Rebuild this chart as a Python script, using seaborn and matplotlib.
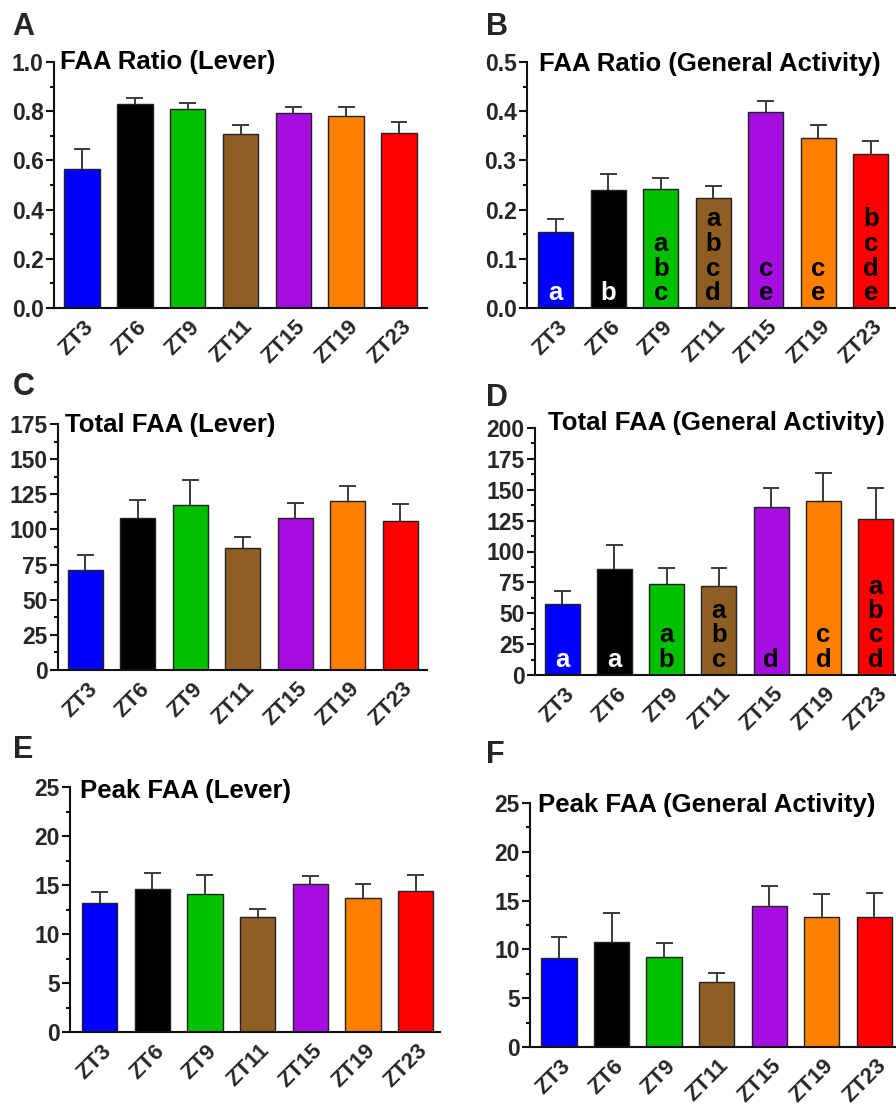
import numpy as np
import pandas as pd
import matplotlib
matplotlib.use("Agg")
import matplotlib.pyplot as plt
import matplotlib.transforms as mtransforms
from matplotlib.ticker import MultipleLocator, FormatStrFormatter
import seaborn as sns

# ---------------- data ----------------
categories = ["ZT3", "ZT6", "ZT9", "ZT11", "ZT15", "ZT19", "ZT23"]
bar_colors = ["#0000FF", "#000000", "#00C000", "#8E5E22", "#A50DE0", "#FF8000", "#FF0000"]

ratio_lever_mean = [0.565, 0.828, 0.809, 0.707, 0.792, 0.780, 0.710]
ratio_lever_sem = [0.083, 0.025, 0.023, 0.037, 0.024, 0.037, 0.046]

ratio_general_mean = [0.155, 0.239, 0.242, 0.224, 0.398, 0.346, 0.312]
ratio_general_sem = [0.025, 0.033, 0.023, 0.023, 0.023, 0.026, 0.028]
ratio_general_letters = ["a", "b", "abc", "abcd", "ce", "ce", "bcde"]

total_lever_mean = [71.3, 107.8, 117.6, 86.9, 108.0, 120.4, 105.7]
total_lever_sem = [10.2, 13.3, 17.8, 7.6, 10.8, 10.5, 12.3]

total_general_mean = [57.2, 85.6, 74.0, 72.0, 136.0, 140.9, 126.3]
total_general_sem = [10.8, 19.4, 12.4, 14.9, 15.4, 22.9, 24.8]
total_general_letters = ["a", "a", "ab", "abc", "d", "cd", "abcd"]

peak_lever_mean = [13.15, 14.57, 14.13, 11.72, 15.08, 13.69, 14.37]
peak_lever_sem = [1.12, 1.63, 1.87, 0.88, 0.88, 1.46, 1.63]

peak_general_mean = [9.15, 10.75, 9.22, 6.69, 14.47, 13.34, 13.28]
peak_general_sem = [2.11, 2.97, 1.43, 0.89, 2.03, 2.36, 2.45]

letter_colors = ["white", "white", "black", "black", "black", "black", "black"]

# ---------------- style ----------------
sns.set_style("ticks")
plt.rcParams["font.family"] = ["Liberation Sans", "DejaVu Sans"]
plt.rcParams["font.weight"] = "bold"

W, H = 896, 1109
fig = plt.figure(figsize=(W / 100, H / 100), dpi=100)

BAR_W = 0.67
CAP_HALF = 0.16


def px_axes(left, right, top, bottom):
    return fig.add_axes([left / W, 1 - bottom / H, (right - left) / W, (bottom - top) / H])


def panel(box, xlim, means, sems, ymax, major, minor, fmt, title, title_off,
          letter, letter_pos, letters=None):
    ax = px_axes(*box)
    df = pd.DataFrame({"ZT": categories, "value": means})
    sns.barplot(data=df, x="ZT", y="value", hue="ZT", palette=bar_colors,
                saturation=1, legend=False, width=BAR_W, edgecolor="#222222",
                linewidth=1.0, errorbar=None, ax=ax, zorder=2)
    xs = np.arange(len(categories))
    m = np.asarray(means)
    tops = m + np.asarray(sems)
    ax.vlines(xs, m, tops, color="#3a3a3a", linewidth=1.4, zorder=1)
    ax.hlines(tops, xs - CAP_HALF, xs + CAP_HALF, color="#3a3a3a", linewidth=1.4, zorder=1)
    ax.set_xlim(*xlim)
    ax.set_ylim(0, ymax)
    ax.yaxis.set_major_locator(MultipleLocator(major))
    ax.yaxis.set_minor_locator(MultipleLocator(minor))
    ax.yaxis.set_major_formatter(FormatStrFormatter(fmt))
    ax.set_xlabel("")
    ax.set_ylabel("")
    for s in ["top", "right"]:
        ax.spines[s].set_visible(False)
    for s in ["left", "bottom"]:
        ax.spines[s].set_linewidth(1.5)
        ax.spines[s].set_color("#111111")
    ax.tick_params(axis="y", which="major", length=6, width=1.5, pad=1.5,
                   labelsize=16.5, color="#111111")
    ax.tick_params(axis="y", which="minor", length=3, width=1.5, color="#111111")
    ax.tick_params(axis="x", length=0, pad=6, labelsize=16)
    for lab in ax.get_yticklabels():
        lab.set_fontweight("bold")
    offset = mtransforms.ScaledTranslation(1 / 72, 0, fig.dpi_scale_trans)
    for lab in ax.get_xticklabels():
        lab.set_rotation(45)
        lab.set_ha("right")
        lab.set_va("top")
        lab.set_rotation_mode("anchor")
        lab.set_fontweight("bold")
        lab.set_transform(lab.get_transform() + offset)
    ax.annotate(title, xy=(0, 1), xycoords="axes fraction",
                xytext=(title_off[0] * 0.72, title_off[1] * 0.72),
                textcoords="offset points", ha="left", va="baseline",
                fontsize=18.5, fontweight="bold", color="black")
    fig.text(letter_pos[0] / W, 1 - letter_pos[1] / H, letter, fontsize=22,
             fontweight="bold", ha="left", va="baseline")
    if letters is not None:
        for i, s in enumerate(letters):
            for k, ch in enumerate(reversed(s)):
                ax.annotate(ch, xy=(i, 0), xycoords="data",
                            xytext=(0, (8 + k * 24.5) * 0.72),
                            textcoords="offset points", ha="center", va="baseline",
                            fontsize=18.5, fontweight="bold", color=letter_colors[i],
                            zorder=5)
    return ax


panel((54, 427, 62, 308), (-0.53, 6.53), ratio_lever_mean, ratio_lever_sem,
      1.0, 0.2, 0.1, "%.1f", "FAA Ratio (Lever)", (6, -7), "A", (12, 35))
panel((527, 896, 62, 308), (-0.55, 6.48), ratio_general_mean, ratio_general_sem,
      0.5, 0.1, 0.05, "%.1f", "FAA Ratio (General Activity)", (12, -9), "B", (486, 35),
      ratio_general_letters)
panel((58, 427, 424, 670), (-0.52, 6.51), total_lever_mean, total_lever_sem,
      175, 25, 12.5, "%d", "Total FAA (Lever)", (7, -8), "C", (13, 395))
panel((535, 896, 428, 675), (-0.52, 6.39), total_general_mean, total_general_sem,
      200, 25, 12.5, "%d", "Total FAA (General Activity)", (13, -2), "D", (486, 406),
      total_general_letters)
panel((70, 440, 787, 1032), (-0.56, 6.46), peak_lever_mean, peak_lever_sem,
      25, 5, 2.5, "%d", "Peak FAA (Lever)", (10, -11), "E", (13, 758))
panel((530, 896, 803, 1047), (-0.55, 6.41), peak_general_mean, peak_general_sem,
      25, 5, 2.5, "%d", "Peak FAA (General Activity)", (8, -9), "F", (486, 763))

fig.savefig("out.png", dpi=100)
